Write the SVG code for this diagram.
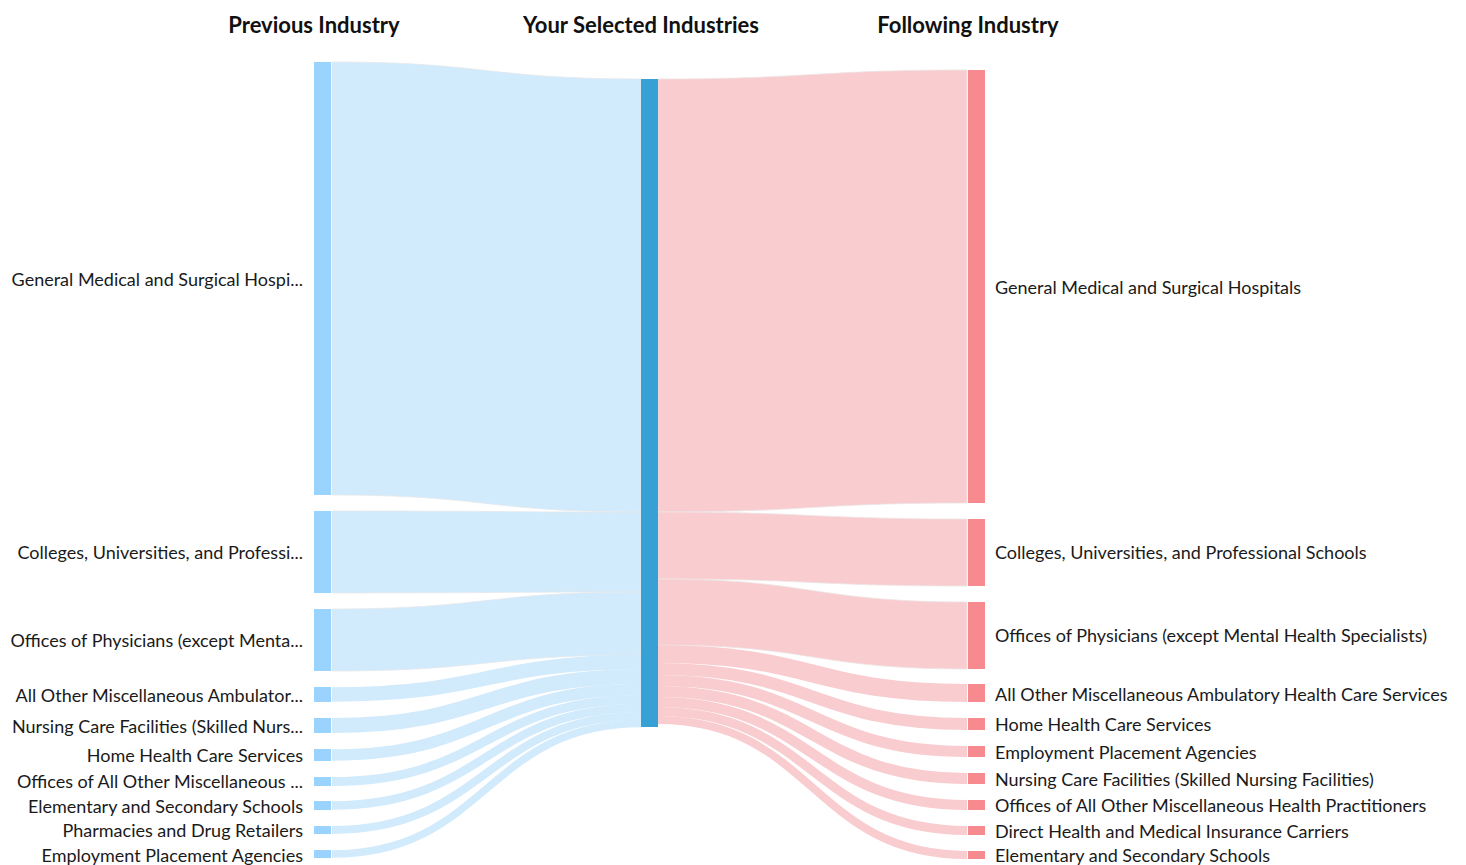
<svg xmlns="http://www.w3.org/2000/svg" width="1466" height="865" viewBox="0 0 1466 865">
<style>
.bg{fill:#ffffff}
.title{font-family:Lato,"Liberation Sans",sans-serif;font-size:22px;font-weight:bold;fill:#111;text-anchor:middle}
.lbl{font-family:Lato,"Liberation Sans",sans-serif;font-size:18px;fill:#1a1a1a}
.lblL{text-anchor:end}
.lblR{text-anchor:start}
.nL{fill:#99d3fe}
.nC{fill:#37a0d4}
.nR{fill:#f78a8f}
.fL{fill:#d1eafc;stroke:#e4e8ec;stroke-width:0.8}
.fR{fill:#f9cccf;stroke:#ece4e4;stroke-width:0.8}
.sL{fill:none;stroke:#d1eafc}
.sR{fill:none;stroke:#f9cccf}
</style>
<rect class="bg" x="0" y="0" width="1466" height="865"/>
<g id="titles">
<text class="title" x="314" y="33">Previous Industry</text>
<text class="title" x="641" y="33">Your Selected Industries</text>
<text class="title" x="968" y="33">Following Industry</text>
</g>
<g id="connectors">
<path class="fL" d="M332,62 C486.5,62 486.5,79 641,79 L641,512 C486.5,512 486.5,495 332,495 Z"/>
<path class="fL" d="M332,511 C486.5,511 486.5,512 641,512 L641,592 C486.5,592 486.5,593 332,593 Z"/>
<path class="fL" d="M332,609 C486.5,609 486.5,592 641,592 L641,655 C486.5,655 486.5,671 332,671 Z"/>
<path class="sL" stroke-width="14.5" d="M332,694.5 C486.5,694.5 486.5,662 641,662"/>
<path class="sL" stroke-width="15" d="M332,725.5 C486.5,725.5 486.5,676.5 641,676.5"/>
<path class="sL" stroke-width="11.5" d="M332,755 C486.5,755 486.5,689.5 641,689.5"/>
<path class="sL" stroke-width="9" d="M332,781.5 C486.5,781.5 486.5,699.5 641,699.5"/>
<path class="sL" stroke-width="8.5" d="M332,805.5 C486.5,805.5 486.5,708 641,708"/>
<path class="sL" stroke-width="8" d="M332,830 C486.5,830 486.5,716 641,716"/>
<path class="sL" stroke-width="7.5" d="M332,854 C486.5,854 486.5,723.5 641,723.5"/>
<path class="fR" d="M658,79 C812.5,79 812.5,70 967,70 L967,503 C812.5,503 812.5,512 658,512 Z"/>
<path class="fR" d="M658,512 C812.5,512 812.5,519 967,519 L967,586 C812.5,586 812.5,579 658,579 Z"/>
<path class="fR" d="M658,579 C812.5,579 812.5,602 967,602 L967,669 C812.5,669 812.5,645 658,645 Z"/>
<path class="sR" stroke-width="18" d="M658,654 C812.5,654 812.5,693 967,693"/>
<path class="sR" stroke-width="12" d="M658,669 C812.5,669 812.5,724 967,724"/>
<path class="sR" stroke-width="11" d="M658,680.5 C812.5,680.5 812.5,751.5 967,751.5"/>
<path class="sR" stroke-width="11" d="M658,691.5 C812.5,691.5 812.5,778.5 967,778.5"/>
<path class="sR" stroke-width="10" d="M658,702 C812.5,702 812.5,805 967,805"/>
<path class="sR" stroke-width="9" d="M658,711.5 C812.5,711.5 812.5,830.5 967,830.5"/>
<path class="sR" stroke-width="8" d="M658,720 C812.5,720 812.5,855 967,855"/>
</g>
<g id="center-node"><rect class="nC" x="641" y="79" width="17" height="648"/></g>
<g id="prev-1"><rect class="nL" x="314" y="62" width="17" height="433"/><text class="lbl lblL" x="303" y="285.5">General Medical and Surgical Hospi...</text></g>
<g id="prev-2"><rect class="nL" x="314" y="511" width="17" height="82"/><text class="lbl lblL" x="303" y="558.5">Colleges, Universities, and Professi...</text></g>
<g id="prev-3"><rect class="nL" x="314" y="609" width="17" height="62"/><text class="lbl lblL" x="303" y="646.5">Offices of Physicians (except Menta...</text></g>
<g id="prev-4"><rect class="nL" x="314" y="687" width="17" height="15"/><text class="lbl lblL" x="303" y="701.5">All Other Miscellaneous Ambulator...</text></g>
<g id="prev-5"><rect class="nL" x="314" y="718" width="17" height="15"/><text class="lbl lblL" x="303" y="732.5">Nursing Care Facilities (Skilled Nurs...</text></g>
<g id="prev-6"><rect class="nL" x="314" y="749" width="17" height="12"/><text class="lbl lblL" x="303" y="761.5">Home Health Care Services</text></g>
<g id="prev-7"><rect class="nL" x="314" y="777" width="17" height="9"/><text class="lbl lblL" x="303" y="787.5">Offices of All Other Miscellaneous ...</text></g>
<g id="prev-8"><rect class="nL" x="314" y="801" width="17" height="9"/><text class="lbl lblL" x="303" y="812.5">Elementary and Secondary Schools</text></g>
<g id="prev-9"><rect class="nL" x="314" y="826" width="17" height="8"/><text class="lbl lblL" x="303" y="836.5">Pharmacies and Drug Retailers</text></g>
<g id="prev-10"><rect class="nL" x="314" y="850" width="17" height="8"/><text class="lbl lblL" x="303" y="861.5">Employment Placement Agencies</text></g>
<g id="next-1"><rect class="nR" x="968" y="70" width="17" height="433"/><text class="lbl lblR" x="995" y="293.5">General Medical and Surgical Hospitals</text></g>
<g id="next-2"><rect class="nR" x="968" y="519" width="17" height="67"/><text class="lbl lblR" x="995" y="558.5">Colleges, Universities, and Professional Schools</text></g>
<g id="next-3"><rect class="nR" x="968" y="602" width="17" height="67"/><text class="lbl lblR" x="995" y="641.5">Offices of Physicians (except Mental Health Specialists)</text></g>
<g id="next-4"><rect class="nR" x="968" y="684" width="17" height="18"/><text class="lbl lblR" x="995" y="700.5">All Other Miscellaneous Ambulatory Health Care Services</text></g>
<g id="next-5"><rect class="nR" x="968" y="718" width="17" height="12"/><text class="lbl lblR" x="995" y="730.5">Home Health Care Services</text></g>
<g id="next-6"><rect class="nR" x="968" y="746" width="17" height="11"/><text class="lbl lblR" x="995" y="758.5">Employment Placement Agencies</text></g>
<g id="next-7"><rect class="nR" x="968" y="773" width="17" height="11"/><text class="lbl lblR" x="995" y="785.5">Nursing Care Facilities (Skilled Nursing Facilities)</text></g>
<g id="next-8"><rect class="nR" x="968" y="800" width="17" height="10"/><text class="lbl lblR" x="995" y="811.5">Offices of All Other Miscellaneous Health Practitioners</text></g>
<g id="next-9"><rect class="nR" x="968" y="826" width="17" height="9"/><text class="lbl lblR" x="995" y="837.5">Direct Health and Medical Insurance Carriers</text></g>
<g id="next-10"><rect class="nR" x="968" y="851" width="17" height="8"/><text class="lbl lblR" x="995" y="861.5">Elementary and Secondary Schools</text></g>
</svg>
